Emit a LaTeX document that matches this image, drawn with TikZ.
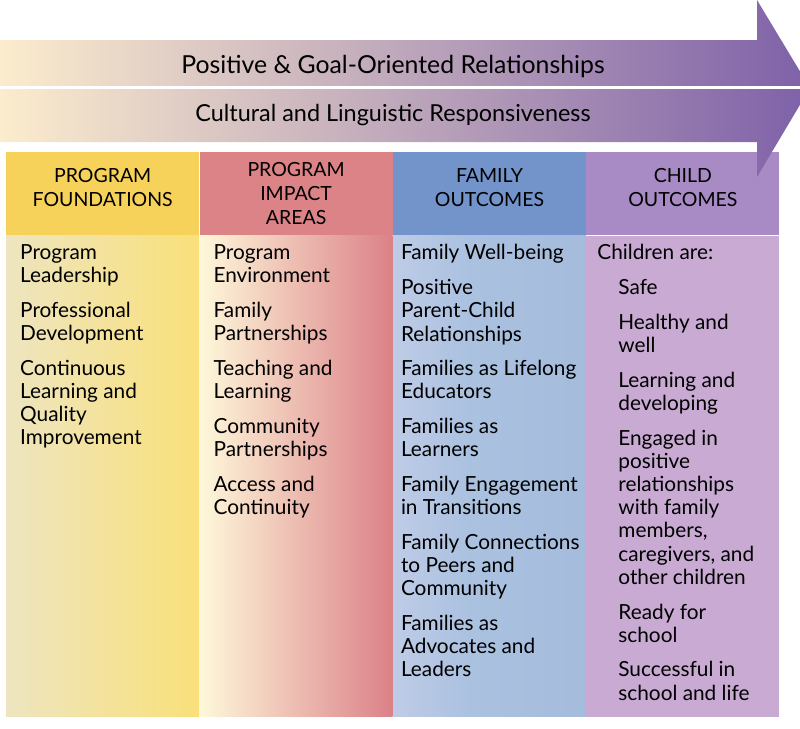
\documentclass[tikz,border=0pt]{standalone}
\usepackage{fontspec}
\setmainfont{Lato}
\usetikzlibrary{positioning,calc}

\definecolor{arrowcream}{HTML}{FCECCD}
\definecolor{arrowmauve}{HTML}{D5B5D5}
\definecolor{arrowpurple}{HTML}{7E61A8}
\definecolor{headyellow}{HTML}{F7D25A}
\definecolor{headred}{HTML}{DC8387}
\definecolor{headblue}{HTML}{7393CB}
\definecolor{headpurple}{HTML}{A88AC4}
\definecolor{foundleft}{HTML}{EEE5C0}
\definecolor{foundright}{HTML}{F9E07A}
\definecolor{impactleft}{HTML}{FEF8DA}
\definecolor{impactmid}{HTML}{F0CBB8}
\definecolor{impactright}{HTML}{DB8188}
\definecolor{familyleft}{HTML}{D8D9EF}
\definecolor{familymid}{HTML}{AAC1E0}
\definecolor{familyedge}{HTML}{A2B8D9}
\definecolor{familyshadow}{HTML}{90A3C9}
\definecolor{bodylilac}{HTML}{C8AAD3}

\pgfdeclarehorizontalshading{familyshade}{100bp}{color(0bp)=(familyleft); color(45bp)=(familymid); color(93bp)=(familyedge); color(100bp)=(familyshadow)}

\newcommand{\ind}{\hspace*{21pt}}

\begin{document}
\begin{tikzpicture}[
    x=1pt, y=-1pt,
    head/.style={rectangle, anchor=north west, inner sep=0pt, minimum width=193pt, minimum height=83pt},
    body/.style={rectangle, anchor=north west, inner sep=0pt, minimum width=193pt, minimum height=481pt},
    headtext/.style={align=center, inner sep=0pt, font=\fontsize{19.5}{24}\selectfont},
    items/.style={anchor=north west, align=left, inner sep=0pt, font=\fontsize{20.8}{23.2}\selectfont},
    bandtext/.style={inner sep=0pt}
]
\useasboundingbox (0,0) rectangle (800,728);
\clip (0,0) rectangle (800,728);

% column headers
\node[head, fill=headyellow] (foundhead) at (6,152) {};
\node[head, fill=headred, right=0pt of foundhead] (impacthead) {};
\node[head, fill=headblue, right=0pt of impacthead] (familyhead) {};
\node[head, fill=headpurple, right=0pt of familyhead] (childhead) {};

% column bodies
\node[body, left color=foundleft, right color=foundright, below=0pt of foundhead] (foundbody) {};
\node[body, left color=impactleft, middle color=impactmid, right color=impactright, below=0pt of impacthead] (impactbody) {};
\node[body, shading=familyshade, below=0pt of familyhead] (familybody) {};
\node[body, fill=bodylilac, below=0pt of childhead] (childbody) {};

% arrow
\shade[left color=arrowcream, middle color=arrowmauve, right color=arrowpurple]
  (0,40) -- (757,40) -- (757,0) -- (810,88) -- (757,177) -- (757,142) -- (0,142) -- cycle;
\draw[white, line width=3pt] (0,87.5) -- (800,87.5);
\node[bandtext, font=\fontsize{24.8}{28}\selectfont] (relations) at (393,66) {Positive \& Goal-Oriented Relationships};
\node[bandtext, font=\fontsize{23.4}{26}\selectfont] (culture) at (393,115) {Cultural and Linguistic Responsiveness};

% header texts
\node[headtext] (foundtitle) at ($(foundhead.center)+(0,-6)$) {PROGRAM\\FOUNDATIONS};
\node[headtext] (impacttitle) at (impacthead.center) {PROGRAM\\IMPACT\\AREAS};
\node[headtext] (familytitle) at ($(familyhead.center)+(0,-6)$) {FAMILY\\OUTCOMES};
\node[headtext] (childtitle) at ($(childhead.center)+(0,-6)$) {CHILD\\OUTCOMES};

% lists
\node[items] (founditems) at ($(foundbody.north west)+(14,9)$) {Program\\Leadership\\[11.5pt]Professional\\Development\\[11.5pt]Continuous\\Learning and\\Quality\\Improvement};
\node[items] (impactitems) at ($(impactbody.north west)+(14,9)$) {Program\\Environment\\[11.5pt]Family\\Partnerships\\[11.5pt]Teaching and\\Learning\\[11.5pt]Community\\Partnerships\\[11.5pt]Access and\\Continuity};
\node[items] (familyitems) at ($(familybody.north west)+(8,9)$) {Family Well-being\\[11.5pt]Positive\\Parent-Child\\Relationships\\[11.5pt]Families as Lifelong\\Educators\\[11.5pt]Families as\\Learners\\[11.5pt]Family Engagement\\in Transitions\\[11.5pt]Family Connections\\to Peers and\\Community\\[11.5pt]Families as\\Advocates and\\Leaders};
\node[items] (childitems) at ($(childbody.north west)+(11,9)$) {Children are:\\[11.5pt]\ind Safe\\[11.5pt]\ind Healthy and\\\ind well\\[11.5pt]\ind Learning and\\\ind developing\\[11.5pt]\ind Engaged in\\\ind positive\\\ind relationships\\\ind with family\\\ind members,\\\ind caregivers, and\\\ind other children\\[11.5pt]\ind Ready for\\\ind school\\[11.5pt]\ind Successful in\\\ind school and life};

\end{tikzpicture}
\end{document}
